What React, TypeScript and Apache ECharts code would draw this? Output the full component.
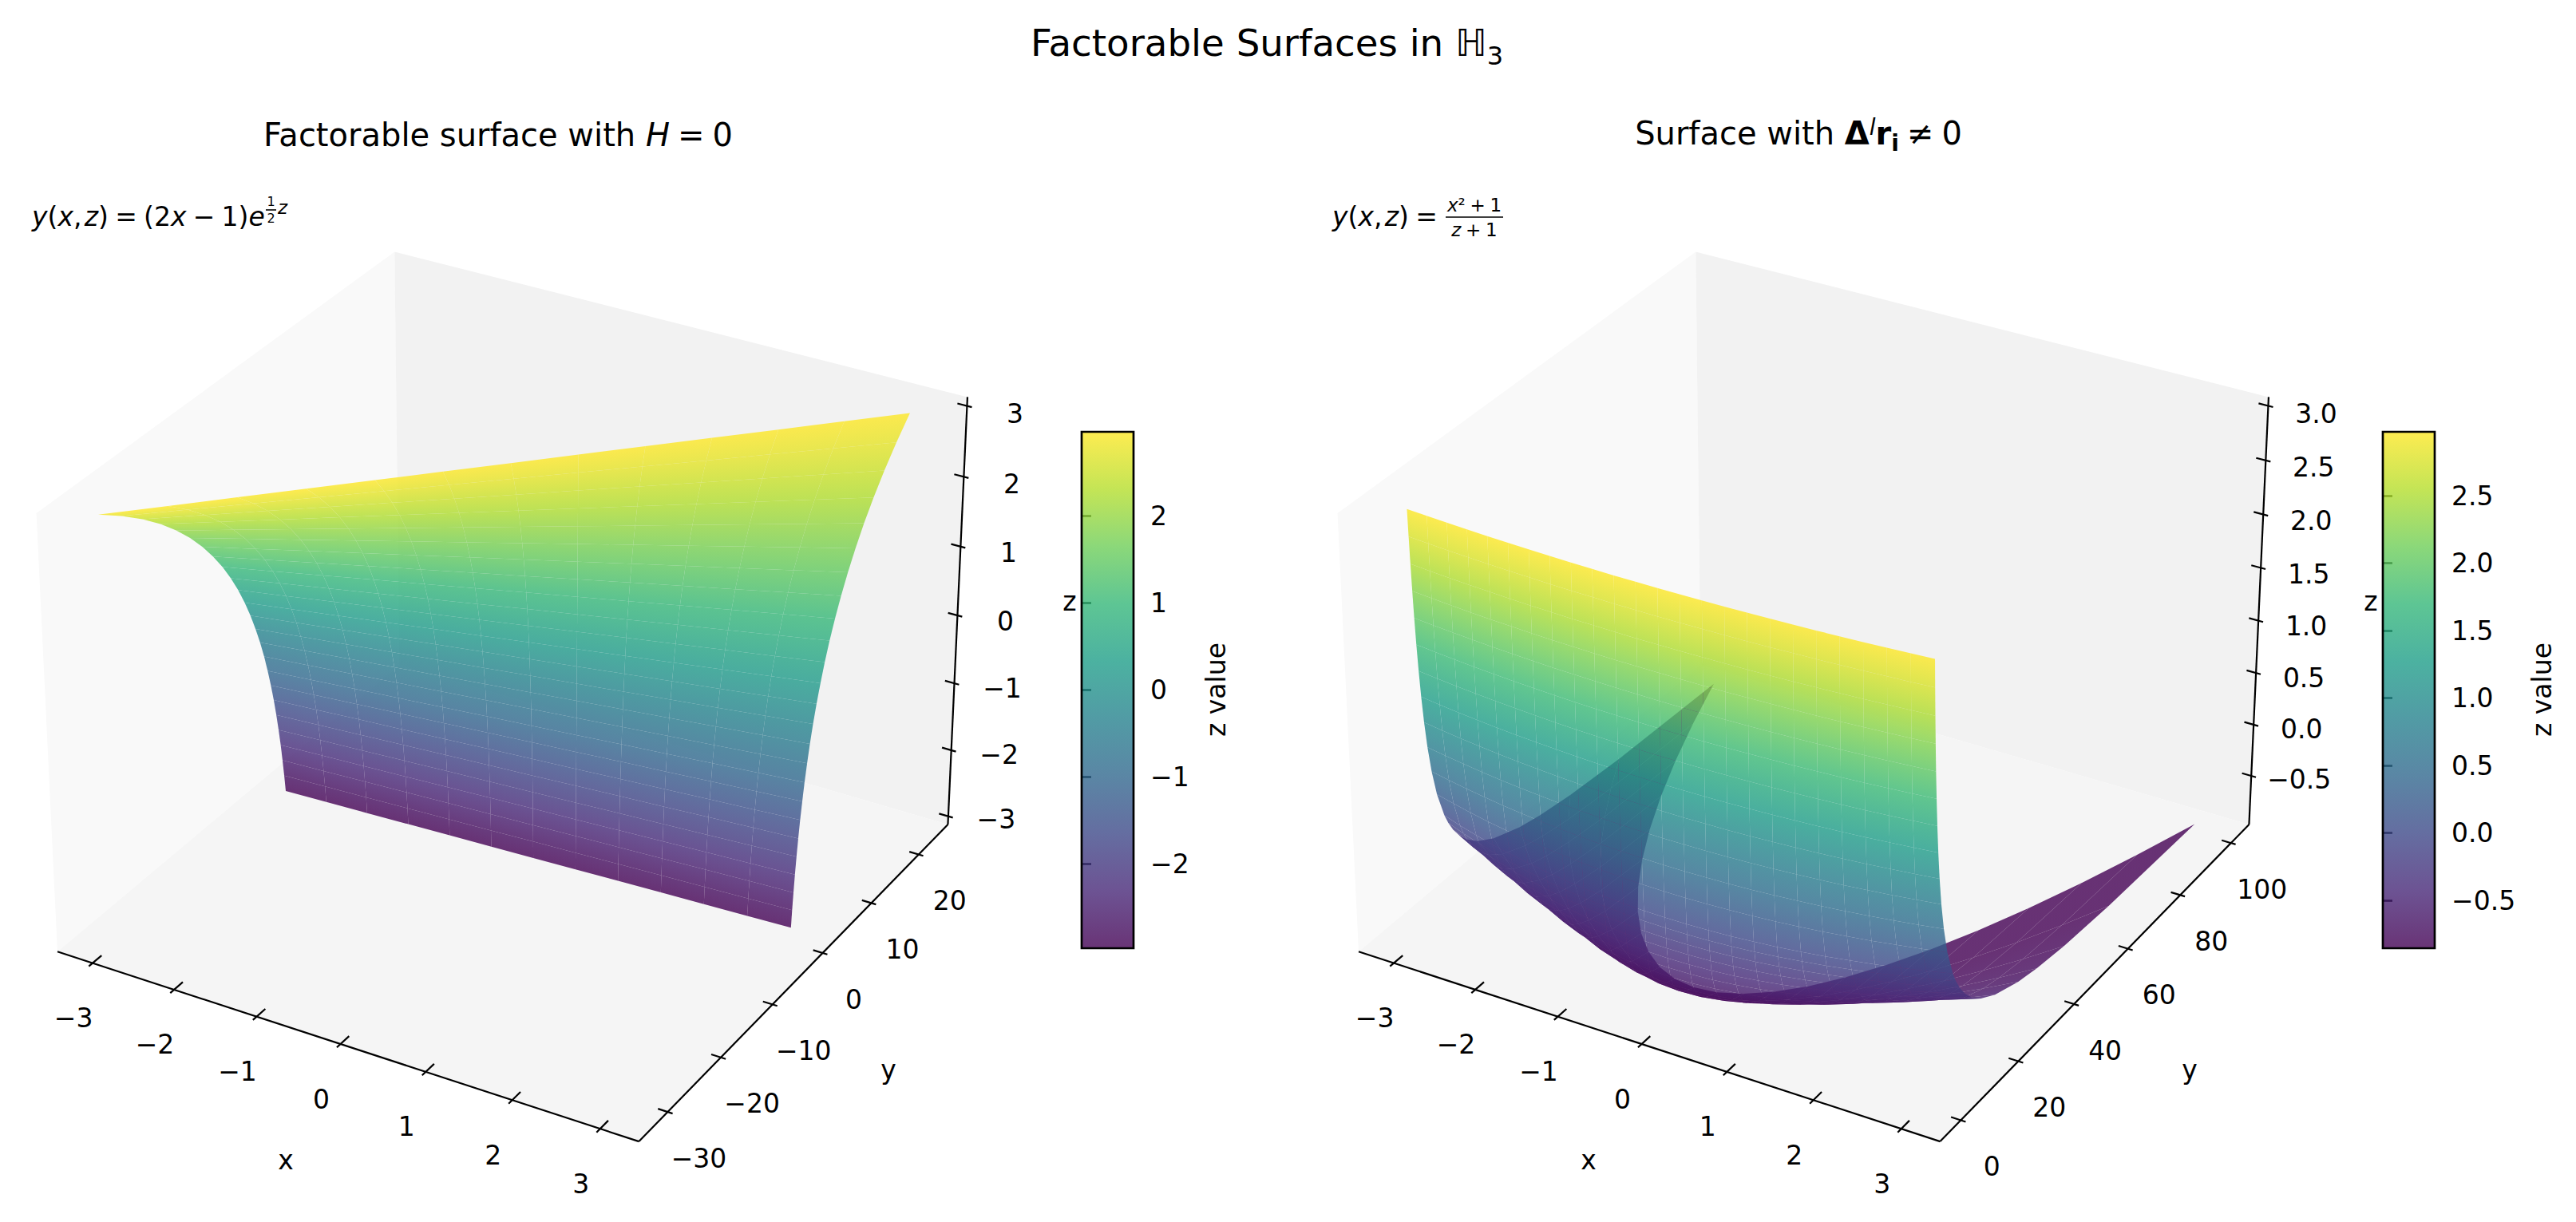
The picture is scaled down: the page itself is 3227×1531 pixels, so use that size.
import React, { useEffect, useRef } from "react";
import * as echarts from "echarts";

// ---------- data ----------
const leftXs = [-3, -2.5, -2, -1.5, -1, -0.5, 0, 0.5, 1, 1.5, 2, 2.5, 3];
const leftZs = [-3, -2.75, -2.5, -2.25, -2, -1.75, -1.5, -1.25, -1, -0.75, -0.5, -0.25, 0, 0.25, 0.5, 0.75, 1, 1.25, 1.5, 1.75, 2, 2.25, 2.5, 2.75, 3];
// y per z row (rows) and x column
const leftY = [
  [-1.56,-1.34,-1.12,-0.89,-0.67,-0.45,-0.22,0,0.22,0.45,0.67,0.89,1.12],
  [-1.77,-1.52,-1.26,-1.01,-0.76,-0.51,-0.25,0,0.25,0.51,0.76,1.01,1.26],
  [-2.01,-1.72,-1.43,-1.15,-0.86,-0.57,-0.29,0,0.29,0.57,0.86,1.15,1.43],
  [-2.27,-1.95,-1.62,-1.3,-0.97,-0.65,-0.32,0,0.32,0.65,0.97,1.3,1.62],
  [-2.58,-2.21,-1.84,-1.47,-1.1,-0.74,-0.37,0,0.37,0.74,1.1,1.47,1.84],
  [-2.92,-2.5,-2.08,-1.67,-1.25,-0.83,-0.42,0,0.42,0.83,1.25,1.67,2.08],
  [-3.31,-2.83,-2.36,-1.89,-1.42,-0.94,-0.47,0,0.47,0.94,1.42,1.89,2.36],
  [-3.75,-3.21,-2.68,-2.14,-1.61,-1.07,-0.54,0,0.54,1.07,1.61,2.14,2.68],
  [-4.25,-3.64,-3.03,-2.43,-1.82,-1.21,-0.61,0,0.61,1.21,1.82,2.43,3.03],
  [-4.81,-4.12,-3.44,-2.75,-2.06,-1.37,-0.69,0,0.69,1.37,2.06,2.75,3.44],
  [-5.45,-4.67,-3.89,-3.12,-2.34,-1.56,-0.78,0,0.78,1.56,2.34,3.12,3.89],
  [-6.18,-5.3,-4.41,-3.53,-2.65,-1.77,-0.88,0,0.88,1.77,2.65,3.53,4.41],
  [-7,-6,-5,-4,-3,-2,-1,0,1,2,3,4,5],
  [-7.93,-6.8,-5.67,-4.53,-3.4,-2.27,-1.13,0,1.13,2.27,3.4,4.53,5.67],
  [-8.99,-7.7,-6.42,-5.14,-3.85,-2.57,-1.28,0,1.28,2.57,3.85,5.14,6.42],
  [-10.18,-8.73,-7.27,-5.82,-4.36,-2.91,-1.45,0,1.45,2.91,4.36,5.82,7.27],
  [-11.54,-9.89,-8.24,-6.59,-4.95,-3.3,-1.65,0,1.65,3.3,4.95,6.59,8.24],
  [-13.08,-11.21,-9.34,-7.47,-5.6,-3.74,-1.87,0,1.87,3.74,5.6,7.47,9.34],
  [-14.82,-12.7,-10.59,-8.47,-6.35,-4.23,-2.12,0,2.12,4.23,6.35,8.47,10.59],
  [-16.79,-14.39,-11.99,-9.6,-7.2,-4.8,-2.4,0,2.4,4.8,7.2,9.6,11.99],
  [-19.03,-16.31,-13.59,-10.87,-8.15,-5.44,-2.72,0,2.72,5.44,8.15,10.87,13.59],
  [-21.56,-18.48,-15.4,-12.32,-9.24,-6.16,-3.08,0,3.08,6.16,9.24,12.32,15.4],
  [-24.43,-20.94,-17.45,-13.96,-10.47,-6.98,-3.49,0,3.49,6.98,10.47,13.96,17.45],
  [-27.69,-23.73,-19.78,-15.82,-11.87,-7.91,-3.96,0,3.96,7.91,11.87,15.82,19.78],
  [-31.37,-26.89,-22.41,-17.93,-13.45,-8.96,-4.48,0,4.48,8.96,13.45,17.93,22.41],
];

const rightXs = [-3,-2.75,-2.5,-2.25,-2,-1.75,-1.5,-1.25,-1,-0.75,-0.5,-0.25,0,0.25,0.5,0.75,1,1.25,1.5,1.75,2,2.25,2.5,2.75,3];
const rightZs = [-0.9,-0.85,-0.8,-0.75,-0.7,-0.6,-0.5,-0.4,-0.3,-0.2,-0.1,0,0.25,0.5,0.75,1,1.25,1.5,1.75,2,2.25,2.5,2.75,3];
const rightY = [
  [100,85.63,72.5,60.63,50,40.63,32.5,25.63,20,15.63,12.5,10.63,10,10.63,12.5,15.63,20,25.63,32.5,40.63,50,60.63,72.5,85.63,100],
  [66.67,57.08,48.33,40.42,33.33,27.08,21.67,17.08,13.33,10.42,8.33,7.08,6.67,7.08,8.33,10.42,13.33,17.08,21.67,27.08,33.33,40.42,48.33,57.08,66.67],
  [50,42.81,36.25,30.31,25,20.31,16.25,12.81,10,7.81,6.25,5.31,5,5.31,6.25,7.81,10,12.81,16.25,20.31,25,30.31,36.25,42.81,50],
  [40,34.25,29,24.25,20,16.25,13,10.25,8,6.25,5,4.25,4,4.25,5,6.25,8,10.25,13,16.25,20,24.25,29,34.25,40],
  [33.33,28.54,24.17,20.21,16.67,13.54,10.83,8.54,6.67,5.21,4.17,3.54,3.33,3.54,4.17,5.21,6.67,8.54,10.83,13.54,16.67,20.21,24.17,28.54,33.33],
  [25,21.41,18.13,15.16,12.5,10.16,8.13,6.41,5,3.91,3.13,2.66,2.5,2.66,3.13,3.91,5,6.41,8.13,10.16,12.5,15.16,18.13,21.41,25],
  [20,17.13,14.5,12.13,10,8.13,6.5,5.13,4,3.13,2.5,2.13,2,2.13,2.5,3.13,4,5.13,6.5,8.13,10,12.13,14.5,17.13,20],
  [16.67,14.27,12.08,10.1,8.33,6.77,5.42,4.27,3.33,2.6,2.08,1.77,1.67,1.77,2.08,2.6,3.33,4.27,5.42,6.77,8.33,10.1,12.08,14.27,16.67],
  [14.29,12.23,10.36,8.66,7.14,5.8,4.64,3.66,2.86,2.23,1.79,1.52,1.43,1.52,1.79,2.23,2.86,3.66,4.64,5.8,7.14,8.66,10.36,12.23,14.29],
  [12.5,10.7,9.06,7.58,6.25,5.08,4.06,3.2,2.5,1.95,1.56,1.33,1.25,1.33,1.56,1.95,2.5,3.2,4.06,5.08,6.25,7.58,9.06,10.7,12.5],
  [11.11,9.51,8.06,6.74,5.56,4.51,3.61,2.85,2.22,1.74,1.39,1.18,1.11,1.18,1.39,1.74,2.22,2.85,3.61,4.51,5.56,6.74,8.06,9.51,11.11],
  [10,8.56,7.25,6.06,5,4.06,3.25,2.56,2,1.56,1.25,1.06,1,1.06,1.25,1.56,2,2.56,3.25,4.06,5,6.06,7.25,8.56,10],
  [8,6.85,5.8,4.85,4,3.25,2.6,2.05,1.6,1.25,1,0.85,0.8,0.85,1,1.25,1.6,2.05,2.6,3.25,4,4.85,5.8,6.85,8],
  [6.67,5.71,4.83,4.04,3.33,2.71,2.17,1.71,1.33,1.04,0.83,0.71,0.67,0.71,0.83,1.04,1.33,1.71,2.17,2.71,3.33,4.04,4.83,5.71,6.67],
  [5.71,4.89,4.14,3.46,2.86,2.32,1.86,1.46,1.14,0.89,0.71,0.61,0.57,0.61,0.71,0.89,1.14,1.46,1.86,2.32,2.86,3.46,4.14,4.89,5.71],
  [5,4.28,3.63,3.03,2.5,2.03,1.63,1.28,1,0.78,0.63,0.53,0.5,0.53,0.63,0.78,1,1.28,1.63,2.03,2.5,3.03,3.63,4.28,5],
  [4.44,3.81,3.22,2.69,2.22,1.81,1.44,1.14,0.89,0.69,0.56,0.47,0.44,0.47,0.56,0.69,0.89,1.14,1.44,1.81,2.22,2.69,3.22,3.81,4.44],
  [4,3.43,2.9,2.43,2,1.63,1.3,1.03,0.8,0.63,0.5,0.43,0.4,0.43,0.5,0.63,0.8,1.03,1.3,1.63,2,2.43,2.9,3.43,4],
  [3.64,3.11,2.64,2.2,1.82,1.48,1.18,0.93,0.73,0.57,0.45,0.39,0.36,0.39,0.45,0.57,0.73,0.93,1.18,1.48,1.82,2.2,2.64,3.11,3.64],
  [3.33,2.85,2.42,2.02,1.67,1.35,1.08,0.85,0.67,0.52,0.42,0.35,0.33,0.35,0.42,0.52,0.67,0.85,1.08,1.35,1.67,2.02,2.42,2.85,3.33],
  [3.08,2.63,2.23,1.87,1.54,1.25,1,0.79,0.62,0.48,0.38,0.33,0.31,0.33,0.38,0.48,0.62,0.79,1,1.25,1.54,1.87,2.23,2.63,3.08],
  [2.86,2.45,2.07,1.73,1.43,1.16,0.93,0.73,0.57,0.45,0.36,0.3,0.29,0.3,0.36,0.45,0.57,0.73,0.93,1.16,1.43,1.73,2.07,2.45,2.86],
  [2.67,2.28,1.93,1.62,1.33,1.08,0.87,0.68,0.53,0.42,0.33,0.28,0.27,0.28,0.33,0.42,0.53,0.68,0.87,1.08,1.33,1.62,1.93,2.28,2.67],
  [2.5,2.14,1.81,1.52,1.25,1.02,0.81,0.64,0.5,0.39,0.31,0.27,0.25,0.27,0.31,0.39,0.5,0.64,0.81,1.02,1.25,1.52,1.81,2.14,2.5],
];

const xTicks = [-3, -2, -1, 0, 1, 2, 3];
const leftYTicks = [-30, -20, -10, 0, 10, 20];
const leftZTicks = [-3, -2, -1, 0, 1, 2, 3];
const rightYTicks = [0, 20, 40, 60, 80, 100];
const rightZTicks = [-0.5, 0, 0.5, 1, 1.5, 2, 2.5, 3];
const leftBarTicks = [-2, -1, 0, 1, 2];
const rightBarTicks = [-0.5, 0, 0.5, 1, 1.5, 2, 2.5];
const leftBarRange = [-2.97, 2.97];
const rightBarRange = [-0.855, 2.975];
const viridis = ["#440154","#482878","#3e4989","#31688e","#26828e","#1f9e89","#35b779","#6ece58","#b5de2b","#fde725"];

// ---------- layout ----------
const W = 3227, H = 1531;
const FONT = "DejaVu Sans";
const SCALE = 701, CY = 846;
const BOX = [1.19046, 1.19046, 0.89285];
const AZ = (-60 * Math.PI) / 180, EL = (30 * Math.PI) / 180;
const WV = [Math.cos(EL) * Math.cos(AZ), Math.cos(EL) * Math.sin(AZ), Math.sin(EL)];
const UV = [-Math.sin(AZ), Math.cos(AZ), 0];
const VV = [-Math.sin(EL) * Math.cos(AZ), -Math.sin(EL) * Math.sin(AZ), Math.cos(EL)];
const dot = (a: number[], b: number[]) => a[0] * b[0] + a[1] * b[1] + a[2] * b[2];

type Plot = {
  lim: number[][]; xs: number[]; zs: number[]; table: number[][];
  yTicks: number[]; zTicks: number[]; zFmt: (v: number) => string;
  range: number[]; gridLeft: number; cx: number;
};
const minus = (s: string) => s.replace("-", "\u2212");
const plots: Plot[] = [
  { lim: [[-3.4375, 3.4375], [-35.29, 26.33], [-3.125, 3.125]], xs: leftXs, zs: leftZs, table: leftY,
    yTicks: leftYTicks, zTicks: leftZTicks, zFmt: (v) => minus(String(v)), range: leftBarRange, gridLeft: 0, cx: 640 },
  { lim: [[-3.4375, 3.4375], [-7.03, 107.27], [-0.98, 3.08]], xs: rightXs, zs: rightZs, table: rightY,
    yTicks: rightYTicks, zTicks: rightZTicks, zFmt: (v) => minus(v.toFixed(1)), range: rightBarRange, gridLeft: 1630, cx: 2270 },
];
const GRID_W = 1330;

function project(p: Plot, x: number, y: number, z: number) {
  const c = [
    ((x - p.lim[0][0]) / (p.lim[0][1] - p.lim[0][0]) - 0.5) * BOX[0],
    ((y - p.lim[1][0]) / (p.lim[1][1] - p.lim[1][0]) - 0.5) * BOX[1],
    ((z - p.lim[2][0]) / (p.lim[2][1] - p.lim[2][0]) - 0.5) * BOX[2],
  ];
  const w = dot(c, WV);
  const s = 10 / (10 - w);
  return [dot(c, UV) * s, dot(c, VV) * s, w];
}

function hexRgb(h: string) {
  return [parseInt(h.slice(1, 3), 16), parseInt(h.slice(3, 5), 16), parseInt(h.slice(5, 7), 16)];
}
function cmap(t: number) {
  const v = Math.max(0, Math.min(1, t)) * (viridis.length - 1);
  const i = Math.min(viridis.length - 2, Math.floor(v));
  const f = v - i;
  const a = hexRgb(viridis[i]), b = hexRgb(viridis[i + 1]);
  return `rgb(${Math.round(a[0] + (b[0] - a[0]) * f)},${Math.round(a[1] + (b[1] - a[1]) * f)},${Math.round(a[2] + (b[2] - a[2]) * f)})`;
}

function surfaceSeries(p: Plot, idx: number) {
  const cells: any[] = [];
  for (let r = 0; r < p.zs.length - 1; r++) {
    for (let c = 0; c < p.xs.length - 1; c++) {
      const q = [
        project(p, p.xs[c], p.table[r][c], p.zs[r]),
        project(p, p.xs[c + 1], p.table[r][c + 1], p.zs[r]),
        project(p, p.xs[c + 1], p.table[r + 1][c + 1], p.zs[r + 1]),
        project(p, p.xs[c], p.table[r + 1][c], p.zs[r + 1]),
      ];
      const depth = (q[0][2] + q[1][2] + q[2][2] + q[3][2]) / 4;
      const norm = (z: number) => (z - p.range[0]) / (p.range[1] - p.range[0]);
      cells.push({ q, depth, c0: cmap(norm(p.zs[r])), c1: cmap(norm(p.zs[r + 1])) });
    }
  }
  cells.sort((a, b) => a.depth - b.depth);
  return {
    type: "custom", xAxisIndex: idx, yAxisIndex: idx, z: 3, silent: true, clip: false,
    data: cells.map((c) => [(c.q[0][0] + c.q[2][0]) / 2, (c.q[0][1] + c.q[2][1]) / 2]),
    renderItem: (params: any, api: any) => {
      const c = cells[params.dataIndex];
      const pts = c.q.map((v: number[]) => api.coord([v[0], v[1]]));
      const ax = (pts[0][0] + pts[1][0]) / 2, ay = (pts[0][1] + pts[1][1]) / 2;
      const bx = (pts[2][0] + pts[3][0]) / 2, by = (pts[2][1] + pts[3][1]) / 2;
      let ex = pts[1][0] - pts[0][0], ey = pts[1][1] - pts[0][1];
      const len = Math.hypot(ex, ey) || 1;
      ex /= len; ey /= len;
      const nx = -ey, ny = ex;
      const d = (bx - ax) * nx + (by - ay) * ny;
      const fill = Math.abs(d) < 0.01 ? c.c1 : new (echarts.graphic as any).LinearGradient(
        ax, ay, ax + nx * d, ay + ny * d,
        [{ offset: 0, color: c.c0 }, { offset: 1, color: c.c1 }], true);
      return { type: "polygon", shape: { points: pts }, style: { fill, opacity: 0.8 } };
    },
  };
}

function frameSeries(p: Plot, idx: number) {
  const [xl, yl, zl] = p.lim;
  const dy = (yl[1] - yl[0]) * (48 / 50) / 12; // range before the padding
  const dx = (xl[1] - xl[0]) * (48 / 50) / 12;
  const items: ((api: any) => any)[] = [];
  const pt = (api: any, x: number, y: number, z: number) => {
    const v = project(p, x, y, z);
    return api.coord([v[0], v[1]]);
  };
  const pane = (corners: number[][], fill: string) => (api: any) => ({
    type: "polygon",
    shape: { points: corners.map((c) => pt(api, c[0], c[1], c[2])) },
    style: { fill },
  });
  const edge = (a: number[], b: number[]) => (api: any) => {
    const s = pt(api, a[0], a[1], a[2]), e = pt(api, b[0], b[1], b[2]);
    return { type: "line", shape: { x1: s[0], y1: s[1], x2: e[0], y2: e[1] }, style: { stroke: "#000", lineWidth: 2.2 } };
  };
  const [x0, x1] = xl, [y0, y1] = yl, [z0, z1] = zl;
  items.push(pane([[x0, y0, z0], [x0, y1, z0], [x0, y1, z1], [x0, y0, z1]], "#f9f9f9"));
  items.push(pane([[x0, y1, z0], [x1, y1, z0], [x1, y1, z1], [x0, y1, z1]], "#f2f2f2"));
  items.push(pane([[x0, y0, z0], [x1, y0, z0], [x1, y1, z0], [x0, y1, z0]], "#f5f5f5"));
  items.push(edge([x0, y0, z0], [x1, y0, z0]));
  items.push(edge([x1, y0, z0], [x1, y1, z0]));
  items.push(edge([x1, y1, z0], [x1, y1, z1]));
  const tick = (a: number[], b: number[], anchor: number[], off: number[], label: string) => (api: any) => {
    const s = pt(api, a[0], a[1], a[2]), e = pt(api, b[0], b[1], b[2]), c = pt(api, anchor[0], anchor[1], anchor[2]);
    return {
      type: "group",
      children: [
        { type: "line", shape: { x1: s[0], y1: s[1], x2: e[0], y2: e[1] }, style: { stroke: "#000", lineWidth: 2.2 } },
        { type: "text", style: { text: label, x: c[0] + off[0], y: c[1] + off[1], fill: "#000", fontSize: 33, fontFamily: FONT, align: "center", verticalAlign: "middle" } },
      ],
    };
  };
  xTicks.forEach((t) => items.push(tick([t, y0 - 0.13 * dy, z0], [t, y0 + 0.3 * dy, z0], [t, y0, z0], [-24, 69], minus(String(t)))));
  p.yTicks.forEach((t) => items.push(tick([x1 + 0.1 * dx, t, z0], [x1 - 0.2 * dx, t, z0], [x1, t, z0], [39, 58], minus(String(t)))));
  p.zTicks.forEach((t) => {
    const f = (t - z0) / (z1 - z0);
    items.push(tick([x1 + 0.1 * dx, y1, t], [x1 - 0.2 * dx, y1, t], [x1, y1, t], [60, 4 + 6 * f], p.zFmt(t)));
  });
  return {
    type: "custom", xAxisIndex: idx, yAxisIndex: idx, z: 2, silent: true, clip: false,
    data: items.map(() => [0, 0]),
    renderItem: (params: any, api: any) => items[params.dataIndex](api),
  };
}

function barSeries(p: Plot, idx: number) {
  return {
    type: "custom", xAxisIndex: idx, yAxisIndex: idx, z: 2, silent: true, clip: false,
    data: [[0, p.range[0], 1, p.range[1]]],
    renderItem: (_: any, api: any) => {
      const a = api.coord([api.value(0), api.value(1)]);
      const b = api.coord([api.value(2), api.value(3)]);
      const shape = { x: a[0], y: b[1], width: b[0] - a[0], height: a[1] - b[1] };
      return {
        type: "group",
        children: [
          { type: "rect", shape, style: {
            opacity: 0.8,
            fill: new (echarts.graphic as any).LinearGradient(0, 1, 0, 0,
              viridis.map((color, i) => ({ offset: i / (viridis.length - 1), color }))),
          } },
          { type: "rect", shape, style: { fill: "none", stroke: "#000", lineWidth: 2.7 } },
        ],
      };
    },
  };
}

const SP = "\u2005"; // narrow space, as mathtext leaves around operators
const mathRich = (s: number, raise = 0) => ({
  n: { fontSize: s, fontFamily: FONT, fill: "#000", verticalAlign: "bottom", padding: [0, 0, raise, 0] },
  i: { fontSize: s, fontFamily: FONT, fontStyle: "italic", fill: "#000", verticalAlign: "bottom", padding: [0, 0, raise, 0] },
});
const txt = (x: number, y: number, text: string, fontSize: number, align = "left", rich?: any, extra?: any) => ({
  type: "text", z: 10, silent: true, x, y, ...(extra || {}),
  style: { text, fontSize, fontFamily: FONT, fill: "#000", align, verticalAlign: "middle", ...(rich ? { rich } : {}) },
});
const barLine = (x1: number, x2: number, y: number) => ({
  type: "line", z: 10, silent: true, shape: { x1, y1: y, x2, y2: y }, style: { stroke: "#000", lineWidth: 1.6 },
});

const graphics: any[] = [
  txt(1587, 58, "{n|Factorable Surfaces in }{i|\u210D}{s|3}", 46.7, "center", {
    ...mathRich(46.7, 8), s: { fontSize: 32, fontFamily: FONT, fill: "#000", verticalAlign: "bottom", padding: [0, 0, 0, 0] },
  }),
  txt(624, 169, `{n|Factorable surface with }{i|H}{n|${SP}=${SP}0}`, 40, "center", mathRich(40)),
  txt(2253, 169, `{n|Surface with }{b|\u0394}{u|l}{b|r}{d|i}{n|${SP}\u2260${SP}0}`, 40, "center", {
    n: { fontSize: 40, fontFamily: FONT, fill: "#000", verticalAlign: "bottom", padding: [0, 0, 6, 0] },
    b: { fontSize: 40, fontFamily: FONT, fontWeight: "bold", fill: "#000", verticalAlign: "bottom", padding: [0, 0, 6, 0] },
    u: { fontSize: 28, fontFamily: FONT, fontStyle: "italic", fill: "#000", verticalAlign: "bottom", padding: [0, 0, 20, 0] },
    d: { fontSize: 28, fontFamily: FONT, fontWeight: "bold", fill: "#000", verticalAlign: "bottom", padding: [0, 0, 0, 0] },
  }),
  txt(40, 271, `{i|y}{n|(}{i|x}{n|,\u200A}{i|z}{n|)${SP}=${SP}(2}{i|x}{n|${SP}\u2212${SP}1)}{i|e}`, 33, "left", mathRich(33)),
  txt(339.5, 252, "1", 16, "center"),
  barLine(333, 346, 263),
  txt(339.5, 273, "2", 16, "center"),
  txt(348, 260, "{i|z}", 23, "left", mathRich(23)),
  txt(1669, 271, `{i|y}{n|(}{i|x}{n|,\u200A}{i|z}{n|)${SP}=}`, 33, "left", mathRich(33)),
  txt(1847, 257, `{i|x}{n|\u00B2${SP}+${SP}1}`, 23, "center", mathRich(23)),
  barLine(1811, 1883, 272),
  txt(1847, 288, `{i|z}{n|${SP}+${SP}1}`, 23, "center", mathRich(23)),
  txt(358, 1453, "x", 33, "center"),
  txt(1113, 1340, "y", 33, "center"),
  txt(1340, 753, "z", 33, "center"),
  txt(1990, 1453, "x", 33, "center"),
  txt(2743, 1340, "y", 33, "center"),
  txt(2970, 753, "z", 33, "center"),
  txt(1523, 864, "z value", 33, "center", undefined, { rotation: Math.PI / 2 }),
  txt(3184, 864, "z value", 33, "center", undefined, { rotation: Math.PI / 2 }),
];

const BAR = { top: 541, height: 647, width: 65, lefts: [1355, 2985] };

export default function App() {
  const ref = useRef<HTMLDivElement>(null);
  useEffect(() => {
    document.body.style.margin = "0";
    document.body.style.background = "#fff";
    const chart = echarts.init(ref.current!, undefined, { renderer: "svg" });
    const grids: any[] = [], xAxes: any[] = [], yAxes: any[] = [], series: any[] = [];
    plots.forEach((p, i) => {
      grids.push({ left: p.gridLeft, top: 0, width: GRID_W, height: H });
      xAxes.push({ type: "value", gridIndex: i, show: false, min: (p.gridLeft - p.cx) / SCALE, max: (p.gridLeft + GRID_W - p.cx) / SCALE });
      yAxes.push({ type: "value", gridIndex: i, show: false, min: (CY - H) / SCALE, max: CY / SCALE });
      series.push(frameSeries(p, i), surfaceSeries(p, i));
    });
    plots.forEach((p, i) => {
      const k = i + 2;
      const vals = i === 0 ? leftBarTicks : rightBarTicks;
      grids.push({ left: BAR.lefts[i], top: BAR.top, width: BAR.width, height: BAR.height });
      xAxes.push({ type: "value", gridIndex: k, show: false, min: 0, max: 1 });
      yAxes.push({
        type: "value", gridIndex: k, position: "right", min: p.range[0], max: p.range[1],
        axisLine: { show: false }, splitLine: { show: false },
        axisTick: { show: true, length: 12, inside: false, customValues: vals, lineStyle: { color: "#000", width: 2.7 } },
        axisLabel: {
          show: true, margin: 21, customValues: vals, color: "#000", fontSize: 33, fontFamily: FONT,
          formatter: (v: number) => (i === 0 ? minus(String(v)) : minus(v.toFixed(1))),
        },
      });
      series.push(barSeries(p, k));
    });
    chart.setOption({
      animation: false,
      backgroundColor: "#fff",
      tooltip: { show: false },
      grid: grids, xAxis: xAxes, yAxis: yAxes, series,
      graphic: { elements: graphics },
    });
    return () => chart.dispose();
  }, []);
  return <div ref={ref} style={{ width: W, height: H }} />;
}
